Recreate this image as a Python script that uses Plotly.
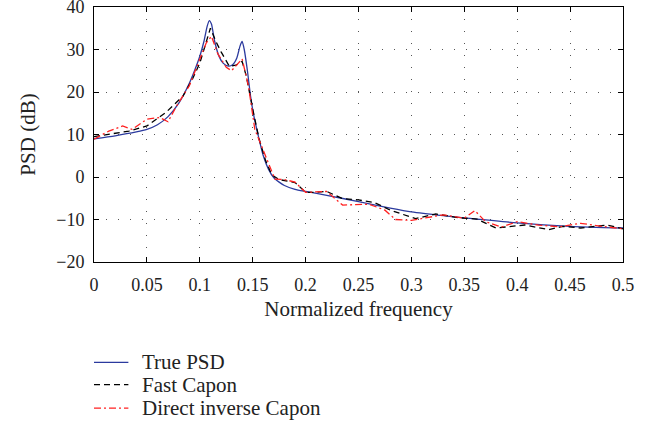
import plotly.graph_objects as go

# True PSD
f_true = [0, 0.02, 0.04, 0.05, 0.06, 0.07, 0.08, 0.09, 0.095, 0.1, 0.104, 0.107, 0.109, 0.111,
          0.114, 0.118, 0.122, 0.127, 0.131, 0.135, 0.138, 0.14, 0.142, 0.145, 0.148, 0.151,
          0.155, 0.16, 0.165, 0.17, 0.175, 0.18, 0.19, 0.2, 0.22, 0.25, 0.28, 0.3, 0.33, 0.35,
          0.4, 0.45, 0.5]
psd_true = [9.0, 9.7, 10.6, 11.2, 12.3, 14.2, 17.3, 22.0, 25.0, 28.4, 32.0, 35.5, 36.8, 36.0,
            32.0, 28.5, 26.8, 26.1, 26.4, 28.0, 30.8, 31.9, 30.0, 25.0, 19.0, 14.5,
            10.0, 5.0, 1.8, -0.2, -1.2, -2.0, -2.9, -3.4, -4.3, -5.8, -7.3, -8.2, -9.1, -9.6,
            -10.8, -11.6, -12.0]

# Fast Capon
f_fast = [0, 0.015, 0.033, 0.05, 0.068, 0.084, 0.093, 0.1, 0.105, 0.11, 0.115, 0.12, 0.128,
          0.134, 0.14, 0.144, 0.15, 0.156, 0.162, 0.168, 0.175, 0.19, 0.2, 0.21, 0.22, 0.235,
          0.25, 0.265, 0.28, 0.292, 0.304, 0.323, 0.345, 0.362, 0.38, 0.407, 0.43, 0.443,
          0.46, 0.485, 0.5]
psd_fast = [9.5, 10.1, 10.8, 12.0, 15.2, 19.0, 23.0, 26.8, 31.0, 35.0, 32.0, 29.5, 26.0,
            26.3, 27.2, 23.7, 16.0, 9.0, 4.0, 0.5, -0.6, -1.3, -3.6, -3.6, -3.4, -5.1,
            -5.4, -6.0, -7.8, -8.8, -9.8, -8.7, -9.6, -9.9, -12.0, -11.3, -12.4, -11.6,
            -12.0, -11.3, -12.2]

# Direct inverse Capon
f_direct = [0, 0.014, 0.027, 0.036, 0.05, 0.062, 0.07, 0.078, 0.09, 0.1, 0.106, 0.111, 0.117,
            0.125, 0.13, 0.14, 0.146, 0.152, 0.162, 0.171, 0.18, 0.19, 0.2, 0.22, 0.235, 0.26,
            0.275, 0.285, 0.3, 0.31, 0.33, 0.35, 0.36, 0.37, 0.385, 0.4, 0.42, 0.44, 0.46,
            0.48, 0.5]
psd_direct = [8.9, 10.8, 12.0, 11.2, 13.6, 14.0, 13.0, 16.7, 21.4, 28.0, 31.5, 33.1, 29.0,
              25.8, 25.0, 27.8, 21.4, 11.2, 5.0, -0.5, -0.6, -1.2, -3.6, -3.4, -6.6, -6.4,
              -7.8, -10.0, -10.2, -9.8, -8.9, -9.7, -7.9, -10.5, -11.8, -10.5, -11.3, -11.7,
              -10.9, -11.6, -12.2]

series_names = ["True PSD", "Fast Capon", "Direct inverse Capon"]

x_ticks = [0, 0.05, 0.1, 0.15, 0.2, 0.25, 0.3, 0.35, 0.4, 0.45, 0.5]
x_labels = ["0", "0.05", "0.1", "0.15", "0.2", "0.25", "0.3", "0.35", "0.4", "0.45", "0.5"]
y_ticks = [-20, -10, 0, 10, 20, 30, 40]

FONT = "Liberation Serif"
TXT = "#222222"
colors = ["#2b3a9e", "black", "#ff2020"]
dashes = ["solid", "6px,4px", "7px,3px,2px,3px"]

fig = go.Figure()
fig.add_trace(go.Scatter(x=f_true, y=psd_true, mode="lines", name=series_names[0],
                         line=dict(color=colors[0], width=1.3, shape="spline", smoothing=0.6)))
fig.add_trace(go.Scatter(x=f_fast, y=psd_fast, mode="lines", name=series_names[1],
                         line=dict(color=colors[1], width=1.3, dash=dashes[1])))
fig.add_trace(go.Scatter(x=f_direct, y=psd_direct, mode="lines", name=series_names[2],
                         line=dict(color=colors[2], width=1.3, dash=dashes[2])))

axis_common = dict(showline=True, linecolor="black", linewidth=1, mirror="ticks",
                   ticks="inside", ticklen=5, tickcolor="black",
                   showgrid=True, gridcolor="#555555", gridwidth=1, griddash="1px,11px",
                   zeroline=False, tickfont=dict(family=FONT, size=18, color=TXT),
                   ticklabeloverflow="allow")

fig.update_xaxes(range=[0, 0.5], tickvals=x_ticks, ticktext=x_labels, ticklabelstandoff=6,
                 title=dict(text="Normalized frequency", font=dict(family=FONT, size=21, color=TXT),
                            standoff=7), **axis_common)
fig.update_yaxes(range=[-20, 40], tickvals=y_ticks, ticklabelstandoff=5,
                 title=dict(text="PSD (dB)", font=dict(family=FONT, size=21, color=TXT),
                            standoff=14), **axis_common)

# Manual legend below the axes (paper coordinates)
legend_y = [-0.394, -0.481, -0.573]
shapes = []
annotations = []
for name, col, dsh, yy in zip(series_names, colors, dashes, legend_y):
    shapes.append(dict(type="line", xref="paper", yref="paper", x0=0.0, x1=0.065, y0=yy, y1=yy,
                       line=dict(color=col, width=1.3, dash=dsh)))
    annotations.append(dict(xref="paper", yref="paper", x=0.087, y=yy, xanchor="left",
                            yanchor="middle", text=name, showarrow=False,
                            font=dict(family=FONT, size=21, color=TXT)))

fig.update_layout(
    width=662, height=425,
    margin=dict(l=94, r=39, t=7, b=163, autoexpand=False),
    plot_bgcolor="white", paper_bgcolor="white",
    font=dict(family=FONT, size=18, color=TXT),
    showlegend=False,
    shapes=shapes,
    annotations=annotations,
)

fig.write_html("out.html", config={"displayModeBar": False},
               post_script="document.body.style.margin='0';")
